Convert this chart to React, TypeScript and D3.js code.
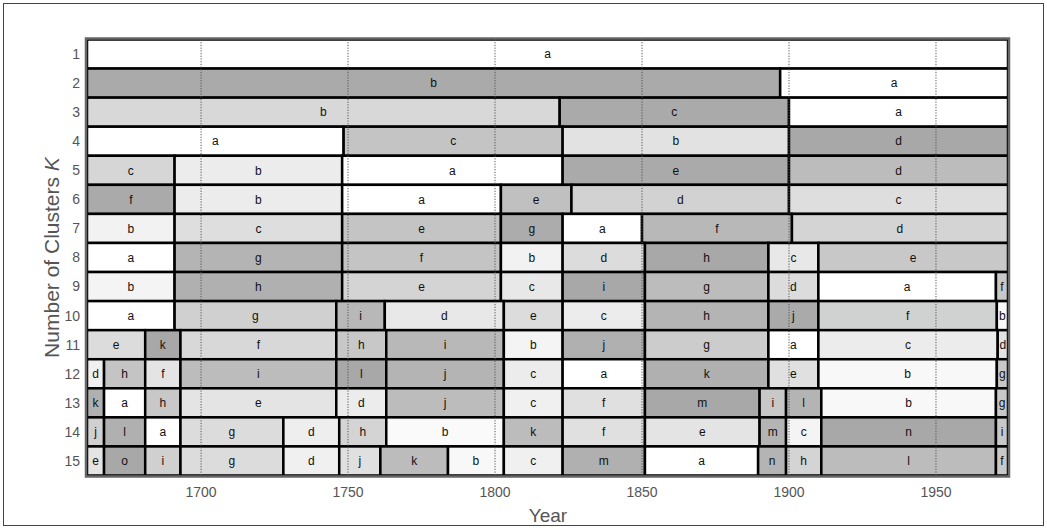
import React from "react";
import * as d3 from "d3";

// K = 1..15, one row each
const clusterCounts = d3.range(1, 16);

// years at which the cluster changes, per row
const breaks: number[][] = [
  [],
  [1897],
  [1822, 1900],
  [1748.5, 1823, 1900],
  [1691, 1748, 1823, 1900],
  [1691, 1748, 1802, 1826, 1900],
  [1691, 1748, 1802, 1823, 1850, 1901],
  [1691, 1748, 1802, 1823, 1851, 1893, 1910],
  [1691, 1748, 1802, 1823, 1851, 1893, 1910, 1970.4],
  [1691, 1746, 1762.5, 1803, 1823, 1851, 1893, 1910, 1970.7],
  [1681, 1693, 1746, 1763, 1803, 1823, 1851, 1893, 1910, 1971],
  [1667, 1681, 1693, 1746, 1763, 1803, 1823, 1851, 1893, 1910, 1970.7],
  [1667, 1681, 1693, 1746, 1763, 1803, 1823, 1851, 1890, 1899, 1911, 1970.4],
  [1667, 1681, 1693, 1728, 1747, 1763, 1803, 1823, 1851, 1890, 1899, 1911, 1970.4],
  [1667, 1681, 1693, 1728, 1747, 1761, 1784, 1803, 1823, 1851, 1889.5, 1899, 1911, 1970.4],
];

const clusters: string[][] = [
  ["a"],
  ["b", "a"],
  ["b", "c", "a"],
  ["a", "c", "b", "d"],
  ["c", "b", "a", "e", "d"],
  ["f", "b", "a", "e", "d", "c"],
  ["b", "c", "e", "g", "a", "f", "d"],
  ["a", "g", "f", "b", "d", "h", "c", "e"],
  ["b", "h", "e", "c", "i", "g", "d", "a", "f"],
  ["a", "g", "i", "d", "e", "c", "h", "j", "f", "b"],
  ["e", "k", "f", "h", "i", "b", "j", "g", "a", "c", "d"],
  ["d", "h", "f", "i", "l", "j", "c", "a", "k", "e", "b", "g"],
  ["k", "a", "h", "e", "d", "j", "c", "f", "m", "i", "l", "b", "g"],
  ["j", "l", "a", "g", "d", "h", "b", "k", "f", "e", "m", "c", "n", "i"],
  ["e", "o", "i", "g", "d", "j", "k", "b", "c", "m", "a", "n", "h", "l", "f"],
];

const shades: string[][] = [
  ["#ffffff"],
  ["#aaaaaa", "#ffffff"],
  ["#d8d8d8", "#aaaaaa", "#ffffff"],
  ["#ffffff", "#c4c4c4", "#e2e2e2", "#a8a8a8"],
  ["#d6d6d6", "#ececec", "#ffffff", "#aaaaaa", "#bcbcbc"],
  ["#aaaaaa", "#ececec", "#ffffff", "#c0c0c0", "#d2d2d2", "#dedede"],
  ["#f2f2f2", "#dedede", "#c4c4c4", "#acacac", "#ffffff", "#b8b8b8", "#d4d4d4"],
  ["#ffffff", "#b4b4b4", "#c4c4c4", "#f2f2f2", "#dcdcdc", "#a8a8a8", "#e8e8e8", "#c8c8c8"],
  ["#f4f4f4", "#b0b0b0", "#d4d4d4", "#e8e8e8", "#a8a8a8", "#bcbcbc", "#dcdcdc", "#ffffff", "#c8c8c8"],
  ["#ffffff", "#d0d0d0", "#b8b8b8", "#e8e8e8", "#dcdcdc", "#ececec", "#b4b4b4", "#aaaaaa", "#d0d2d2", "#f8f8f8"],
  ["#dcdcdc", "#a8a8a8", "#d8d8d8", "#c8c8c8", "#b8b8b8", "#f4f4f4", "#b0b0b0", "#cccccc", "#ffffff", "#ececec", "#e4e4e4"],
  ["#f0f0f0", "#c4c4c4", "#e4e4e4", "#bcbcbc", "#a8a8a8", "#b4b4b4", "#ececec", "#ffffff", "#b0b0b0", "#e0e0e0", "#f8f8f8", "#c8c8c8"],
  ["#b0b0b0", "#ffffff", "#c8c8c8", "#e4e4e4", "#ececec", "#bcbcbc", "#f0f0f0", "#e0e0e0", "#a8a8a8", "#c8c8c8", "#b4b4b4", "#f8f8f8", "#c8c8c8"],
  ["#d0d0d0", "#b0b0b0", "#ffffff", "#dcdcdc", "#eeeeee", "#d4d4d4", "#fafafa", "#bcbcbc", "#e0e0e0", "#e4e4e4", "#b4b4b4", "#f4f4f4", "#a8a8a8", "#c8c8c8"],
  ["#e4e4e4", "#a8a8a8", "#d0d0d0", "#dcdcdc", "#f0f0f0", "#e0e0e0", "#bcbcbc", "#f8f8f8", "#f0f0f0", "#b0b0b0", "#ffffff", "#b4b4b4", "#d4d4d4", "#bcbcbc", "#c8c8c8"],
];

const yearTicks = [1700, 1750, 1800, 1850, 1900, 1950];
const yearRange: [number, number] = [1661.2, 1974.5];

const W = 1047;
const H = 528;
const plot = { left: 87, right: 1008, top: 39.5, bottom: 475.5 };

export default function App() {
  const x = d3.scaleLinear().domain(yearRange).range([plot.left, plot.right]);
  const y = d3
    .scaleBand<number>()
    .domain(clusterCounts)
    .range([plot.top, plot.bottom])
    .padding(0);

  const segments = clusterCounts.flatMap((k, i) => {
    const edges = [yearRange[0], ...breaks[i], yearRange[1]];
    return clusters[i].map((lab, j) => ({
      k,
      lab,
      fill: shades[i][j],
      x0: edges[j],
      x1: edges[j + 1],
    }));
  });

  const font = "'Liberation Sans', Arial, sans-serif";

  return (
    <svg
      width={W}
      height={H}
      style={{ position: "absolute", left: 0, top: 0, fontFamily: font }}
    >
      <rect x={3.5} y={3.5} width={1040} height={522} fill="#fff" stroke="#444" strokeWidth={1} />

      <g>
        {segments.map((s, i) => (
          <rect
            key={i}
            x={x(s.x0)}
            y={y(s.k)!}
            width={x(s.x1) - x(s.x0)}
            height={y.bandwidth()}
            fill={s.fill}
            stroke="#000"
            strokeWidth={2.5}
          />
        ))}
      </g>

      <g>
        {yearTicks.map((t) => (
          <line
            key={t}
            x1={x(t)}
            x2={x(t)}
            y1={plot.top}
            y2={plot.bottom}
            stroke="#555"
            strokeWidth={1}
            strokeDasharray="1.2 1.5"
          />
        ))}
      </g>

      <g fontSize={12} fill="#111" textAnchor="middle">
        {segments.map((s, i) => (
          <text
            key={i}
            x={(x(s.x0) + x(s.x1)) / 2}
            y={y(s.k)! + y.bandwidth() / 2}
            dy="0.35em"
          >
            {s.lab}
          </text>
        ))}
      </g>

      <rect
        x={plot.left - 1}
        y={plot.top - 1}
        width={plot.right - plot.left + 2}
        height={plot.bottom - plot.top + 2}
        fill="none"
        stroke="#666"
        strokeWidth={2.5}
      />

      <g fontSize={14} fill="#555" textAnchor="end">
        {clusterCounts.map((k) => (
          <text key={k} x={80} y={y(k)! + y.bandwidth() / 2} dy="0.35em">
            {k}
          </text>
        ))}
      </g>

      <g fontSize={14} fill="#555" textAnchor="middle">
        {yearTicks.map((t) => (
          <text key={t} x={x(t)} y={497}>
            {t}
          </text>
        ))}
      </g>

      <text x={548} y={522} fontSize={19} fill="#555" textAnchor="middle">
        Year
      </text>

      <text
        transform={`translate(59,${(plot.top + plot.bottom) / 2}) rotate(-90)`}
        fontSize={21}
        fill="#555"
        textAnchor="middle"
      >
        Number of Clusters <tspan fontStyle="italic">K</tspan>
      </text>
    </svg>
  );
}
